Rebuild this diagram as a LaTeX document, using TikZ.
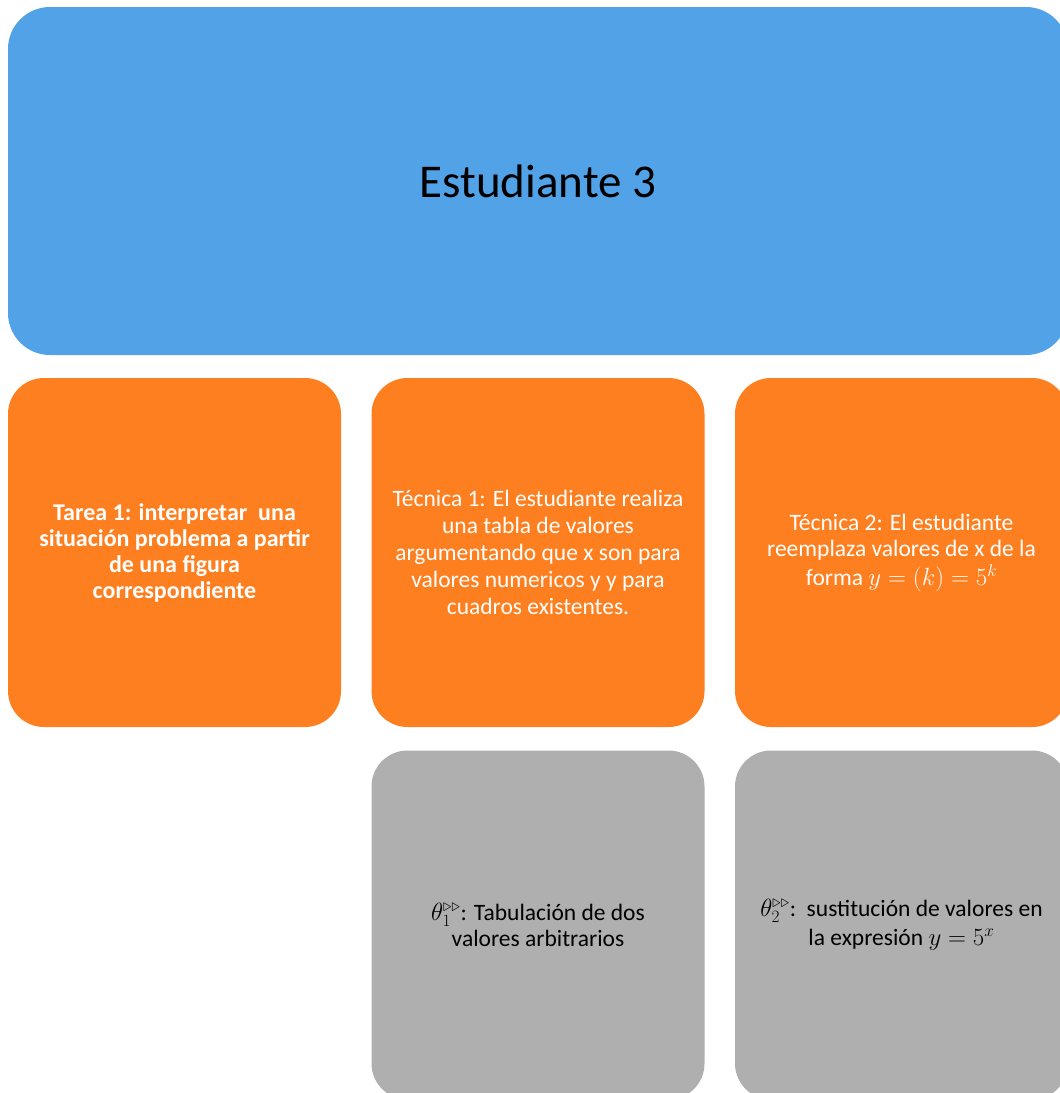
\documentclass[tikz,border=0pt]{standalone}
\usepackage{fontspec}
\usepackage{amsmath,amssymb}
\setmainfont{Carlito}
\definecolor{hblue}{RGB}{82,162,232}
\definecolor{horange}{RGB}{254,127,31}
\definecolor{hgray}{RGB}{175,175,175}
\begin{document}
\begin{tikzpicture}[x=1pt,y=-1pt,
  card/.style={rounded corners=36pt, minimum width=333pt, minimum height=349pt, inner sep=0pt, align=center, text=white},
  ocard/.style={card, fill=horange, font=\fontsize{23.5}{27}\selectfont},
  gcard/.style={card, fill=hgray, text=black, font=\fontsize{23.5}{26}\selectfont}]
\begin{scope}
\clip (0,0) rectangle (1060,1093);
\node[card, fill=hblue, minimum width=1060pt, minimum height=348pt, rounded corners=42pt, text=black,
  font=\fontsize{47}{56}\selectfont] (title) at (538,181) {Estudiante 3};
\node[ocard, font=\fontsize{24}{26}\selectfont\bfseries] (tarea) at (174.5,552.5)
  {Tarea 1: interpretar\ \ una\\ situación problema a partir\\ de una figura\\ correspondiente};
\node[ocard] (tec1) at (538,552.5)
  {Técnica 1: El estudiante realiza\\ una tabla de valores\\ argumentando que x son para\\ valores numericos y y para\\ cuadros existentes.};
\node[ocard, font=\fontsize{23.5}{26}\selectfont] (tec2) at (901.5,552.5)
  {Técnica 2: El estudiante\\ reemplaza valores de x de la\\[3pt] forma $y=(k)=5^{k}$};
\node[gcard] (th1) at (538,925)
  {$\theta_1^{\triangleright\triangleright}$: Tabulación de dos\\ valores arbitrarios};
\node[gcard] (th2) at (901.5,925)
  {$\theta_2^{\triangleright\triangleright}$:\ \ sustitución de valores en\\[3pt] la expresión $y=5^{x}$};
\end{scope}
\pgfresetboundingbox
\useasboundingbox (0,0) rectangle (1060,1093);
\end{tikzpicture}
\end{document}
